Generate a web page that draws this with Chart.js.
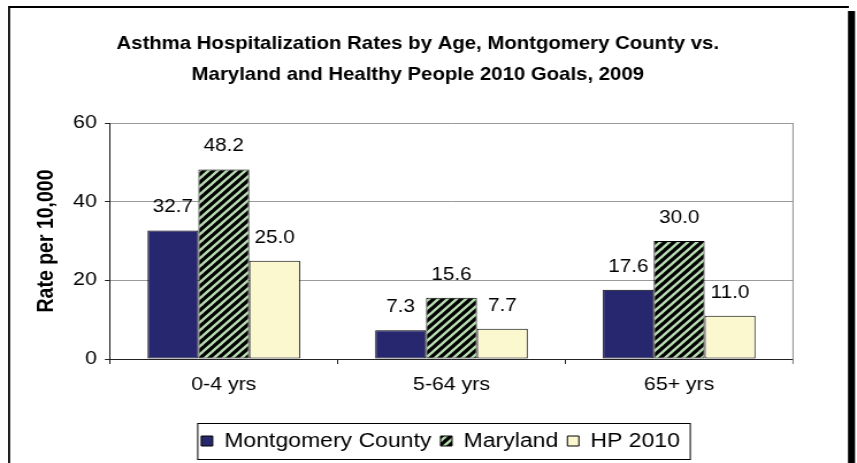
<!DOCTYPE html>
<html>
<head>
<meta charset="utf-8">
<script src="https://cdn.jsdelivr.net/npm/chart.js@4/dist/chart.umd.min.js"></script>
<style>
html,body{margin:0;padding:0;background:#fff;overflow:hidden;}
canvas{display:block;transform-origin:0 0;transform:scaleX(1.1503);}
</style>
</head>
<body>
<canvas id="c" width="745" height="463"></canvas>
<script>
const categories = ['0-4 yrs', '5-64 yrs', '65+ yrs'];
const seriesNames = ['Montgomery County', 'Maryland', 'HP 2010'];
const montgomery = [32.7, 7.3, 17.6];
const maryland = [48.2, 15.6, 30.0];
const hp2010 = [25.0, 7.7, 11.0];
const yTickValues = [0, 20, 40, 60];
const titleLines = ['Asthma Hospitalization Rates by Age, Montgomery County vs.', 'Maryland and Healthy People 2010 Goals, 2009'];
const yAxisTitle = 'Rate per 10,000';

const FONT = "'Liberation Sans', Arial, sans-serif";

function stripePattern() {
  const s = 8;
  const cv = document.createElement('canvas');
  cv.width = s; cv.height = s;
  const g = cv.getContext('2d');
  g.fillStyle = '#000000';
  g.fillRect(0, 0, s, s);
  g.strokeStyle = '#b6dbb0';
  g.lineWidth = 2.4;
  g.lineCap = 'square';
  for (const o of [-s, 0, s]) {
    g.beginPath();
    g.moveTo(o, s);
    g.lineTo(o + s, 0);
    g.stroke();
  }
  return g.createPattern(cv, 'repeat');
}
const ctx = document.getElementById('c').getContext('2d');
const mdPattern = stripePattern();

const LEGEND_CENTER = 386;
const TITLE_SHIFT = 10;

const framePlugin = {
  id: 'frame',
  afterLayout(chart) {
    const tb = chart.titleBlock;
    if (tb) { tb.left += TITLE_SHIFT; tb.right += TITLE_SHIFT; }
    if (chart.legend) chart.legend._shifted = false;
  },
  beforeDraw(chart) {
    const c = chart.ctx;
    c.save();
    c.fillStyle = '#ffffff';
    c.fillRect(0, 0, chart.width, chart.height);
    c.restore();
    const lg = chart.legend;
    const hb = lg && lg.legendHitBoxes;
    if (hb && hb.length && !lg._shifted) {
      const last = hb[hb.length - 1];
      const l = hb[0].left - 3;
      const r = last.left + last.width + 9;
      const d = LEGEND_CENTER - (l + r) / 2;
      lg.left += d; lg.right += d;
      hb.forEach(h => { h.left += d; });
      lg._shifted = true;
    }
  },
  afterDraw(chart) {
    const c = chart.ctx;
    const a = chart.chartArea;
    c.save();
    // plot right border
    c.strokeStyle = '#8c8c8c';
    c.lineWidth = 1;
    c.beginPath();
    c.moveTo(a.right, a.top);
    c.lineTo(a.right, a.bottom + 5);
    c.stroke();
    // legend border
    const lg = chart.legend;
    const hb = lg.legendHitBoxes;
    if (hb && hb.length) {
      const l = hb[0].left - 3;
      const last = hb[hb.length - 1];
      const r = last.left + last.width + 9;
      c.strokeStyle = '#000000';
      c.lineWidth = 1;
      c.strokeRect(l, Math.round(lg.top) + 0.5, r - l, Math.round(lg.bottom - lg.top) - 2);
    }
    // outer frame
    c.fillStyle = '#000000';
    c.fillRect(7, 6, 731, 2);
    c.fillRect(7, 6, 1.8, chart.height - 6);
    c.fillRect(737.2, 11, 6.1, chart.height - 11);
    c.restore();
  }
};

const dataLabelPlugin = {
  id: 'dataLabels',
  afterDatasetsDraw(chart) {
    const c = chart.ctx;
    c.save();
    c.font = '18px ' + FONT;
    c.fillStyle = '#000000';
    c.textAlign = 'center';
    c.textBaseline = 'middle';
    chart.data.datasets.forEach((ds, i) => {
      const meta = chart.getDatasetMeta(i);
      meta.data.forEach((el, j) => {
        c.fillText(Number(ds.data[j]).toFixed(1), el.x, el.y - 23);
      });
    });
    c.restore();
  }
};

new Chart(ctx, {
  type: 'bar',
  data: {
    labels: categories,
    datasets: [
      { label: seriesNames[0], data: montgomery, backgroundColor: '#27276f', borderColor: '#000000', borderWidth: 1 },
      { label: seriesNames[1], data: maryland, backgroundColor: mdPattern, borderColor: '#000000', borderWidth: 1 },
      { label: seriesNames[2], data: hp2010, backgroundColor: '#fbf8d0', borderColor: '#000000', borderWidth: 1 }
    ]
  },
  options: {
    responsive: false,
    animation: false,
    devicePixelRatio: 1,
    layout: { padding: { left: 17, right: 55.6, top: 0, bottom: 2 } },
    datasets: { bar: { categoryPercentage: 0.67, barPercentage: 1.0, borderSkipped: false } },
    plugins: {
      title: {
        display: true,
        text: titleLines,
        color: '#000000',
        font: { family: FONT, size: 17.7, weight: 'bold', lineHeight: 31 / 17.7 },
        padding: { top: 28.5, bottom: 32.5 }
      },
      legend: {
        display: true,
        position: 'bottom',
        labels: {
          color: '#000000',
          font: { family: FONT, size: 20 },
          boxWidth: 10,
          boxHeight: 10,
          padding: 8
        }
      },
      tooltip: { enabled: false }
    },
    scales: {
      x: {
        offset: true,
        grid: { offset: true, drawOnChartArea: false, drawTicks: true, tickLength: 5, tickColor: '#222222', color: '#222222' },
        border: { display: true, color: '#222222', width: 1 },
        ticks: { color: '#000000', font: { family: FONT, size: 18.5 }, padding: 10, maxRotation: 0 },
        afterFit(scale) { scale.height = 64; }
      },
      y: {
        min: 0,
        max: 60,
        afterBuildTicks(scale) { scale.ticks = yTickValues.map(v => ({ value: v })); },
        grid: { color: '#9a9a9a', tickColor: '#222222', tickLength: 4.4, lineWidth: 1 },
        border: { display: true, color: '#222222', width: 1 },
        ticks: { color: '#000000', font: { family: FONT, size: 18.5 }, padding: 7 },
        title: {
          display: true,
          text: yAxisTitle,
          color: '#000000',
          font: { family: FONT, size: 19.5, weight: 'bold' },
          padding: { top: 11.5, bottom: 0 }
        },
        afterFit(scale) { scale.width = 78.6; }
      }
    }
  },
  plugins: [framePlugin, dataLabelPlugin]
});
</script>
</body>
</html>
